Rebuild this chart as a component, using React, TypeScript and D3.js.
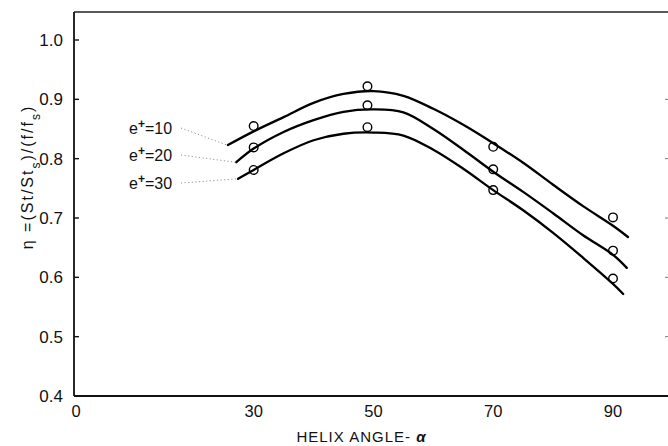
import React from "react";
import * as d3 from "d3";

// Measured efficiency index at each helix angle, one array per rib height e+
const ANGLES = [30, 49, 70, 90];
const ETA_E10 = [0.855, 0.922, 0.82, 0.701];
const ETA_E20 = [0.819, 0.89, 0.782, 0.645];
const ETA_E30 = [0.781, 0.853, 0.747, 0.598];

// Faired curves through the data
const FIT_ANGLES_E10 = [25.7, 30, 35, 40, 45, 50, 55, 60, 65, 70, 75, 80, 85, 90, 92.5];
const FIT_E10 = [0.823, 0.846, 0.87, 0.894, 0.909, 0.914, 0.906, 0.884, 0.857, 0.826, 0.793, 0.756, 0.72, 0.687, 0.668];
const FIT_ANGLES_E20 = [27.1, 30, 35, 40, 45, 50, 55, 60, 65, 70, 75, 80, 85, 90, 92.3];
const FIT_E20 = [0.794, 0.817, 0.845, 0.865, 0.879, 0.883, 0.878, 0.85, 0.815, 0.778, 0.744, 0.708, 0.671, 0.638, 0.616];
const FIT_ANGLES_E30 = [27.4, 30, 35, 40, 45, 50, 55, 60, 65, 70, 75, 80, 85, 90, 91.7];
const FIT_E30 = [0.766, 0.781, 0.809, 0.831, 0.842, 0.844, 0.839, 0.815, 0.783, 0.747, 0.713, 0.675, 0.633, 0.589, 0.572];

const SERIES_LABELS = ["10", "20", "30"];
const X_TICKS = [0, 30, 50, 70, 90];
const Y_TICKS = [0.4, 0.5, 0.6, 0.7, 0.8, 0.9, 1.0];

const W = 668;
const H = 446;
const FONT = "'Liberation Sans', Arial, Helvetica, sans-serif";

export default function App() {
  const left = 74;
  const top = 12;
  const bottom = 396;
  const x = d3.scaleLinear().domain([0, 90]).range([left, 613]);
  const y = d3.scaleLinear().domain([0.4, 1.0]).range([bottom, 40]);

  const line = d3
    .line<[number, number]>()
    .x((d) => x(d[0]))
    .y((d) => y(d[1]))
    .curve(d3.curveCatmullRom.alpha(0.5));

  const fits = [
    { a: FIT_ANGLES_E10, v: FIT_E10, pts: ETA_E10 },
    { a: FIT_ANGLES_E20, v: FIT_E20, pts: ETA_E20 },
    { a: FIT_ANGLES_E30, v: FIT_E30, pts: ETA_E30 },
  ];

  // label rows to the left of the curve starts
  const labelX = 129;
  const labelYs = [128, 155, 183];

  return (
    <svg
      width={W}
      height={H}
      viewBox={`0 0 ${W} ${H}`}
      style={{ position: "absolute", left: 0, top: 0, background: "#fff" }}
    >
      <rect x={0} y={0} width={W} height={H} fill="#fff" />

      {/* frame */}
      <line x1={left} x2={W} y1={top} y2={top} stroke="#222" strokeWidth={1.6} />
      <line x1={left} x2={left} y1={top} y2={bottom} stroke="#111" strokeWidth={1.8} />
      <line x1={left} x2={W} y1={bottom} y2={bottom} stroke="#111" strokeWidth={1.8} />

      {/* y ticks and labels */}
      {Y_TICKS.map((t) => (
        <g key={t}>
          {t > 0.4 && (
            <line x1={left} x2={left + 5} y1={y(t)} y2={y(t)} stroke="#111" strokeWidth={1.4} />
          )}
          {t > 0.4 && t < 1.0 && (
            <line x1={W - 3} x2={W} y1={y(t)} y2={y(t)} stroke="#777" strokeWidth={1} />
          )}
          <text
            x={63}
            y={y(t)}
            dy="0.36em"
            textAnchor="end"
            fontFamily={FONT}
            fontSize={17}
            fill="#111"
          >
            {t.toFixed(1)}
          </text>
        </g>
      ))}

      {/* x tick labels */}
      {X_TICKS.map((t) => (
        <text
          key={t}
          x={x(t) + (t === 0 ? 2 : 0)}
          y={411}
          dy="0.36em"
          textAnchor="middle"
          fontFamily={FONT}
          fontSize={16.5}
          fill="#111"
        >
          {t}
        </text>
      ))}

      {/* axis titles */}
      <text
        x={x(48)}
        y={437}
        dy="0.36em"
        textAnchor="middle"
        fontFamily={FONT}
        fontSize={15}
        letterSpacing={1}
        fill="#111"
      >
        HELIX ANGLE- <tspan fontStyle="italic" fontWeight="bold">α</tspan>
      </text>
      <text
        transform={`translate(27,177) rotate(-90)`}
        textAnchor="middle"
        dy="0.36em"
        fontFamily={FONT}
        fontSize={16}
        letterSpacing={2}
        fill="#111"
      >
        η =(St/St
        <tspan baselineShift="sub" fontSize={12}>s</tspan>
        )/(f/f
        <tspan baselineShift="sub" fontSize={12}>s</tspan>)
      </text>

      {/* faired curves */}
      {fits.map((f, i) => (
        <path
          key={`c${i}`}
          d={line(f.a.map((a, j) => [a, f.v[j]] as [number, number])) || ""}
          fill="none"
          stroke="#000"
          strokeWidth={2.3}
          strokeLinecap="round"
        />
      ))}

      {/* measured points */}
      {fits.map((f, i) =>
        f.pts.map((v, j) => (
          <circle
            key={`p${i}-${j}`}
            cx={x(ANGLES[j])}
            cy={y(v)}
            r={4.3}
            fill="none"
            stroke="#000"
            strokeWidth={1.4}
          />
        ))
      )}

      {/* curve labels with dotted leaders */}
      {fits.map((f, i) => {
        const x0 = labelX + 52;
        const y0 = labelYs[i];
        const x1 = x(f.a[0]) - 1;
        const y1 = y(f.v[0]);
        return (
          <g key={`l${i}`}>
            <path
              d={`M${x0},${y0}L${x1},${y1}`}
              fill="none"
              stroke="#888"
              strokeWidth={0.9}
              strokeDasharray="1.2 2.4"
            />
            <text
              x={labelX}
              y={y0}
              dy="0.36em"
              fontFamily={FONT}
              fontSize={16}
              fill="#111"
            >
              e<tspan fontSize={12} fontWeight="bold" dy="-6">+</tspan>
              <tspan dy="6">={SERIES_LABELS[i]}</tspan>
            </text>
          </g>
        );
      })}
    </svg>
  );
}
